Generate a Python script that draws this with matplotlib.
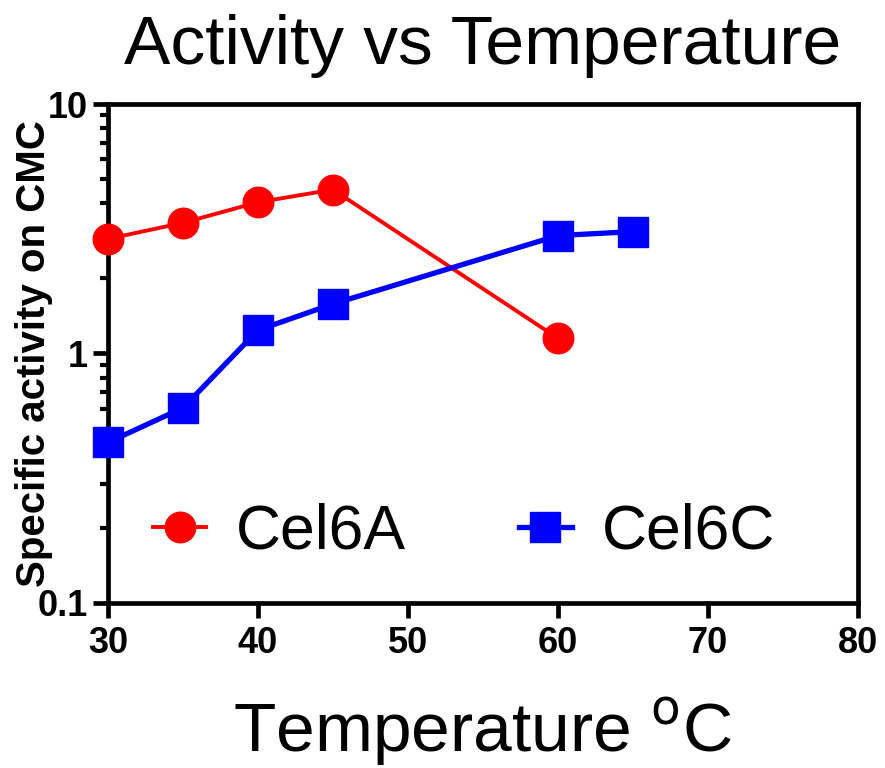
import matplotlib
matplotlib.use("Agg")
import matplotlib.pyplot as plt
from matplotlib.ticker import LogLocator, FixedLocator

# data
temp_a = [30, 35, 40, 45, 60]
cel6a = [2.88, 3.34, 4.04, 4.54, 1.15]
temp_c = [30, 35, 40, 45, 60, 65]
cel6c = [0.44, 0.605, 1.24, 1.58, 2.97, 3.08]

x_ticks = [30, 40, 50, 60, 70, 80]
y_ticks = [0.1, 1, 10]
y_ticklabels = ["0.1", "1", "10"]

plt.rcParams['font.family'] = ['Liberation Sans', 'DejaVu Sans']

fig = plt.figure(figsize=(8.85, 7.68), dpi=100)
ax = fig.add_axes([0.122, 0.215, 0.8475, 0.6495])

ax.plot(temp_a, cel6a, color='#ff0000', lw=2.8, marker='o', ms=22,
        label='Cel6A', clip_on=False, zorder=3)
ax.plot(temp_c, cel6c, color='#0000ff', lw=3.8, marker='s', ms=22,
        label='Cel6C', clip_on=False, zorder=3)

ax.set_yscale('log')
ax.set_xlim(30, 80)
ax.set_ylim(0.1, 10)
ax.xaxis.set_major_locator(FixedLocator(x_ticks))
ax.yaxis.set_major_locator(FixedLocator(y_ticks))
ax.set_yticklabels(y_ticklabels)
ax.yaxis.set_minor_locator(LogLocator(base=10, subs=range(2, 10)))
ax.yaxis.set_minor_formatter(plt.NullFormatter())

for s in ['left', 'bottom', 'right', 'top']:
    ax.spines[s].set_linewidth(3.4)
ax.tick_params(which='major', length=10.5, width=3.4, labelsize=26)
ax.tick_params(axis='x', which='major', pad=6)
ax.tick_params(axis='y', which='major', pad=4)
ax.tick_params(which='minor', length=6, width=3.0)
for lab in ax.get_xticklabels() + ax.get_yticklabels():
    lab.set_fontweight('bold')

ax.set_title('Activity vs Temperature', fontsize=50, pad=29)

ax.set_xlabel('Temperature $^{\\mathrm{o}}$C', fontsize=50)
ax.xaxis.label.set_va('baseline')
ax.xaxis.set_label_coords(0.5, (603 - 752) / 499)

ax.set_ylabel('Specific activity on CMC', fontsize=29, fontweight='bold')
ax.yaxis.label.set_va('baseline')
ax.yaxis.set_label_coords((45 - 108) / 750, 0.5)

ax.legend(loc='center left', bbox_to_anchor=(153 / 885, 1 - 532 / 768),
          bbox_transform=fig.transFigure, ncol=2, frameon=False,
          fontsize=45, handlelength=0.85, columnspacing=1.8,
          handletextpad=0.48, borderpad=0, borderaxespad=0)

fig.savefig('out.png', dpi=100)
